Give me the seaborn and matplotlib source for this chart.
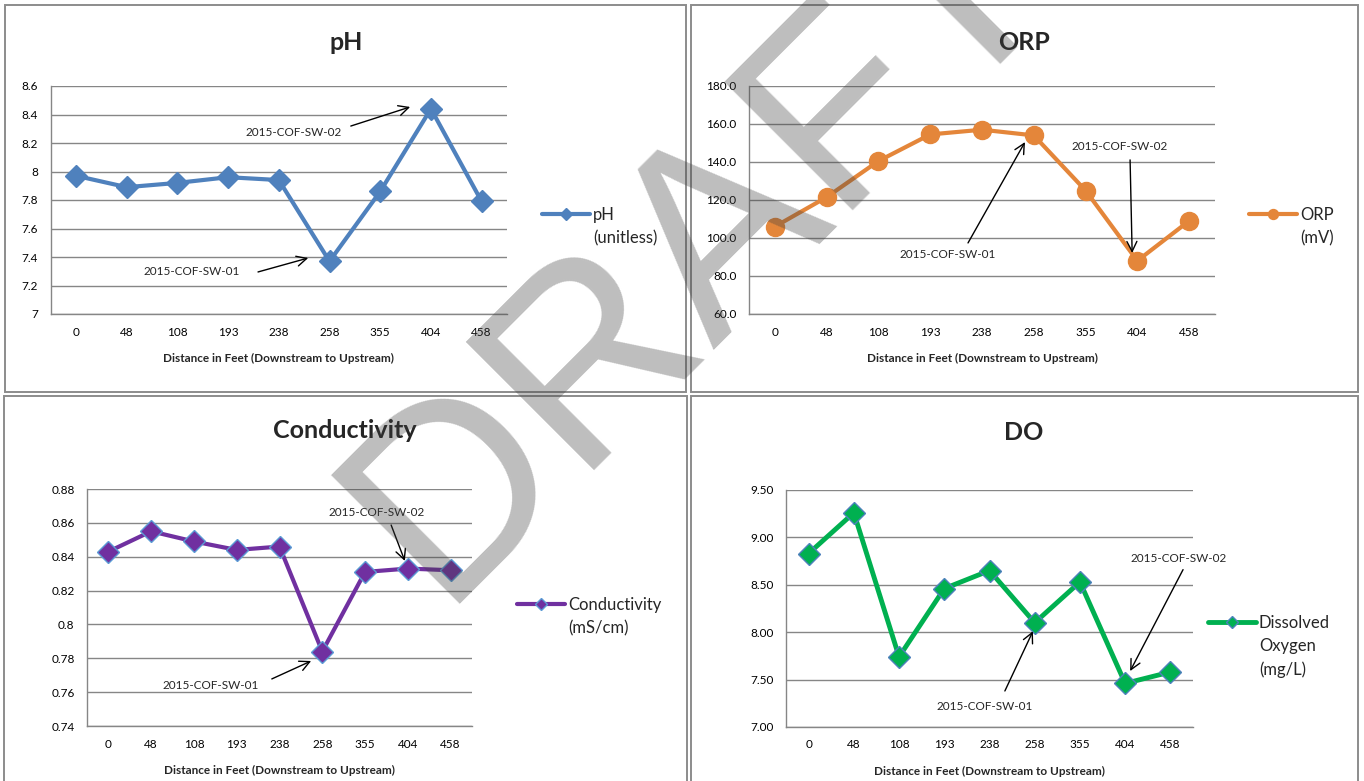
import numpy as np
import pandas as pd
import matplotlib
matplotlib.use("Agg")
import matplotlib.pyplot as plt
import seaborn as sns
from matplotlib.patches import Rectangle

# Datos
distancia = ["0", "48", "108", "193", "238", "258", "355", "404", "458"]
ph = [7.97, 7.89, 7.92, 7.96, 7.94, 7.37, 7.86, 8.44, 7.79]
orp = [106.0, 121.5, 140.5, 154.5, 157.0, 154.0, 125.0, 88.0, 109.0]
conductividad = [0.843, 0.855, 0.849, 0.844, 0.846, 0.784, 0.831, 0.833, 0.832]
oxigeno = [8.83, 9.26, 7.74, 8.46, 8.65, 8.10, 8.53, 7.46, 7.58]

ticks_ph = [7.0, 7.2, 7.4, 7.6, 7.8, 8.0, 8.2, 8.4, 8.6]
ticks_orp = [60, 80, 100, 120, 140, 160, 180]
ticks_cond = [0.74, 0.76, 0.78, 0.80, 0.82, 0.84, 0.86, 0.88]
ticks_do = [7.0, 7.5, 8.0, 8.5, 9.0, 9.5]

xlabel = "Distance in Feet (Downstream to Upstream)"

sns.set_theme(style="white")
plt.rcParams['font.family'] = ['Lato', 'DejaVu Sans']

W, H = 1364, 781
fig = plt.figure(figsize=(W / 100, H / 100), dpi=100)
fig.patch.set_facecolor("white")
gris = "#868686"


def caja(x0, y0, x1, y1):
    return [x0 / W, 1 - y1 / H, (x1 - x0) / W, (y1 - y0) / H]


# Marcos de los cuatro paneles
for (x0, y0, x1, y1) in [(5, 5, 686, 392), (691, 5, 1358, 392),
                         (4, 396, 687, 790), (691, 396, 1358, 790)]:
    fig.patches.append(Rectangle((x0 / W, 1 - y1 / H), (x1 - x0) / W, (y1 - y0) / H,
                                 transform=fig.transFigure, fill=False,
                                 edgecolor="#8c8c8c", lw=1.4))


def panel(pos_ax, valores, titulo, centro_titulo, color, marcador, msize, mec, lw,
          etiqueta, yticks, fmt, pos_leyenda, notas):
    ax = fig.add_axes(caja(*pos_ax))
    df = pd.DataFrame({"pos": np.arange(len(distancia)), "valor": valores})
    sns.lineplot(data=df, x="pos", y="valor", ax=ax, color=color, lw=lw,
                 marker=marcador, markersize=msize, markeredgecolor=mec,
                 markeredgewidth=1.0, markerfacecolor=color, legend=False)
    ax.set_xlim(-0.5, len(distancia) - 0.5)
    ax.set_ylim(yticks[0], yticks[-1])
    ax.set_xticks(np.arange(len(distancia)))
    ax.set_xticklabels(distancia)
    ax.set_xticks(np.arange(-0.5, len(distancia), 1), minor=True)
    ax.set_yticks(yticks)
    ax.set_yticklabels([fmt.format(v) for v in yticks])
    ax.tick_params(axis="x", which="major", length=0, pad=9, labelsize=8.5, colors="black")
    ax.tick_params(axis="x", which="minor", length=4, width=1, color=gris, direction="out")
    ax.tick_params(axis="y", length=4, width=1, color=gris, direction="out", pad=5,
                   labelsize=8.5, labelcolor="black")
    ax.grid(axis="y", color=gris, lw=1)
    ax.grid(axis="x", visible=False)
    ax.set_axisbelow(True)
    for s in ["top", "right"]:
        ax.spines[s].set_visible(False)
    for s in ["left", "bottom"]:
        ax.spines[s].set_color(gris)
        ax.spines[s].set_linewidth(1)
    ax.set_xlabel(xlabel, fontsize=8.5, fontweight="bold", labelpad=11)
    ax.set_ylabel("")
    ax.set_facecolor("white")

    fig.text(centro_titulo[0] / W, 1 - centro_titulo[1] / H, titulo, fontsize=18,
             fontweight="bold", ha="center", va="center")

    # Leyenda: primera linea con el simbolo, resto como texto
    lineas = etiqueta.split("\n")
    fs = 12
    fs_px = fs * 100 / 72
    lx, ly = pos_leyenda
    ax.legend([ax.lines[0]], [lineas[0]], loc="center left",
              bbox_to_anchor=(lx / W, 1 - ly / H), bbox_transform=fig.transFigure,
              frameon=False, fontsize=fs, borderpad=0, borderaxespad=0,
              handlelength=48 / fs_px, handletextpad=3 / fs_px, markerscale=0.55)
    for i, t in enumerate(lineas[1:]):
        fig.text((lx + 51) / W, 1 - (ly + 23.5 * (i + 1)) / H, t, fontsize=fs,
                 ha="left", va="center")

    # Anotaciones de las muestras
    for texto, pt_texto, cola, punta in notas:
        ax.text(pt_texto[0], pt_texto[1], texto, fontsize=8.5, ha="center", va="center")
        ax.annotate("", xy=punta, xytext=cola,
                    arrowprops=dict(arrowstyle="->,head_length=0.6,head_width=0.3",
                                    color="black", lw=1, shrinkA=0, shrinkB=0))
    return ax


panel((50.6, 86, 507, 314), ph, "pH", (346, 42), "#4F81BD", "D", 11, "#4F81BD", 3,
      "pH\n(unitless)", ticks_ph, "{:g}", (542, 215),
      [("2015-COF-SW-02", (4.30, 8.277), (5.42, 8.319), (6.59, 8.453)),
       ("2015-COF-SW-01", (2.29, 7.295), (3.59, 7.295), (4.58, 7.393))])

panel((749, 86, 1215, 314), orp, "ORP", (1024, 42), "#E4863A", "o", 13, "#E4863A", 3,
      "ORP\n(mV)", ticks_orp, "{:.1f}", (1249, 215),
      [("2015-COF-SW-01", (3.34, 91.1), (3.73, 97.4), (4.83, 150.5)),
       ("2015-COF-SW-02", (6.65, 148.4), (6.86, 141.1), (6.90, 92.1))])

panel((87, 489, 472, 726), conductividad, "Conductivity", (345, 431), "#7030A0", "D", 11,
      "#5B9BD5", 3, "Conductivity\n(mS/cm)", ticks_cond, "{:g}", (517, 605),
      [("2015-COF-SW-01", (2.40, 0.7642), (3.82, 0.7678), (4.74, 0.7784)),
       ("2015-COF-SW-02", (6.28, 0.8664), (6.61, 0.8587), (6.93, 0.8375))])

panel((786, 490, 1193, 727), oxigeno, "DO", (1024, 432), "#00B050", "D", 11, "#4F81BD", 3.5,
      "Dissolved\nOxygen\n(mg/L)", ticks_do, "{:.2f}", (1208, 623),
      [("2015-COF-SW-01", (3.90, 7.22), (4.34, 7.38), (4.96, 8.01)),
       ("2015-COF-SW-02", (8.19, 8.78), (8.28, 8.66), (7.11, 7.59))])

# Marca de agua
fig.text(438 / W, 1 - 604 / H, "DRAFT", fontsize=190, color="#404040", alpha=0.34,
         rotation=45, rotation_mode="anchor", ha="left", va="baseline",
         family="Liberation Sans", zorder=10)

fig.savefig("out.png", dpi=100, facecolor="white")
